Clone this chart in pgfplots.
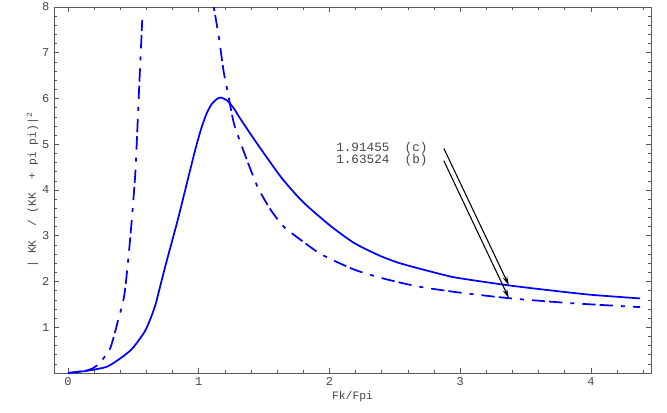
\documentclass[border=0pt]{standalone}
\usepackage{pgfplots}
\pgfplotsset{compat=1.18}
\usepackage{fontspec}
\setmainfont{Liberation Mono}
\usetikzlibrary{arrows.meta}

\definecolor{frame}{RGB}{90,90,90}
\definecolor{labgray}{RGB}{70,70,70}

% solid curve (c)
\pgfplotstableread{
x y
0     0
0.15  0.05
0.30  0.14
0.415 0.35
0.48  0.50
0.53  0.67
0.59  0.92
0.63  1.18
0.67  1.50
0.71  1.95
0.76  2.50
0.84  3.35
0.94  4.50
0.98  4.95
1.02  5.35
1.06  5.67
1.10  5.88
1.14  5.99
1.17  6.02
1.22  5.95
1.27  5.78
1.32  5.55
1.45  5.00
1.63  4.28
1.76  3.85
1.85  3.60
2.015 3.20
2.19  2.84
2.38  2.57
2.55  2.39
2.88  2.14
3.00  2.07
3.373 1.91455
3.71  1.80
4.00  1.71
4.377 1.63
}\curvec

% dash-dotted curve (b), left branch
\pgfplotstableread{
x y
0     0
0.15  0.06
0.22  0.16
0.32  0.52
0.385 1.17
0.42  1.54
0.44  1.90
0.477 2.98
0.515 4.37
0.54  5.96
0.555 6.90
0.568 7.72
}\curvebl

% dash-dotted curve (b), right branch
\pgfplotstableread{
x y
1.105 8.20
1.115 8.00
1.155 7.33
1.19  6.60
1.22  6.17
1.27  5.45
1.35  4.80
1.45  4.07
1.55  3.57
1.65  3.20
1.78  2.91
1.94  2.59
2.19  2.26
2.42  2.06
2.68  1.89
2.99  1.76
3.373 1.63524
3.78  1.54
4.00  1.50
4.377 1.44
}\curvebr

\begin{document}
\begin{tikzpicture}
\begin{axis}[
  scale only axis,
  width=447.75pt, height=274.5pt,
  xmin=-0.107, xmax=4.46,
  ymin=0, ymax=8,
  xtick={0,1,2,3,4},
  minor xtick={0.2,0.4,0.6,0.8,1.2,1.4,1.6,1.8,2.2,2.4,2.6,2.8,3.2,3.4,3.6,3.8,4.2,4.4},
  ytick={0,1,2,3,4,5,6,7,8},
  yticklabels={,1,2,3,4,5,6,7,8},
  minor y tick num=4,
  tick align=inside,
  major tick length=4pt,
  minor tick length=2pt,
  axis line style={frame},
  every tick/.style={frame, line width=0.4pt},
  ticklabel style={font=\fontsize{9}{10}\selectfont, text=labgray},
  /pgf/number format/assume math mode=true,
  label style={font=\fontsize{8.5}{10}\selectfont, text=labgray},
  xlabel={Fk/Fpi},
  ylabel={|~KK~~/~(KK~~+~pi~pi)|\textsuperscript{2}},
  xlabel style={yshift=3pt},
  ylabel style={yshift=-4pt},
]
\addplot[blue, line width=1.3pt, smooth, tension=0.4] table {\curvec};
\addplot[blue, line width=1.3pt, smooth, tension=0.4,
  dash pattern=on 10pt off 3pt on 10pt off 6pt on 3pt off 6pt] table {\curvebl};
\addplot[blue, line width=1.3pt, smooth, tension=0.4,
  dash pattern=on 10pt off 3pt on 10pt off 6pt on 3pt off 6pt] table {\curvebr};

\draw[black, line width=0.8pt, -{Stealth[length=7pt,width=3.5pt]}]
  (axis cs:2.875,4.91) -- (axis cs:3.373,1.91455);
\draw[black, line width=0.8pt, -{Stealth[length=7pt,width=3.5pt]}]
  (axis cs:2.875,4.64) -- (axis cs:3.373,1.63524);
\node[anchor=east, inner sep=0pt, font=\fontsize{9.5}{10}\selectfont, text=labgray]
  at (axis cs:2.752,4.92) {1.91455~~(c)};
\node[anchor=east, inner sep=0pt, font=\fontsize{9.5}{10}\selectfont, text=labgray]
  at (axis cs:2.752,4.64) {1.63524~~(b)};
\end{axis}
\pgfresetboundingbox
\path (current axis.south west) ++(-40.5pt,-29.25pt) coordinate (bbl);
\path (current axis.north east) ++(12pt,5.25pt) coordinate (bbr);
\useasboundingbox (bbl) rectangle (bbr);
\end{tikzpicture}
\end{document}
